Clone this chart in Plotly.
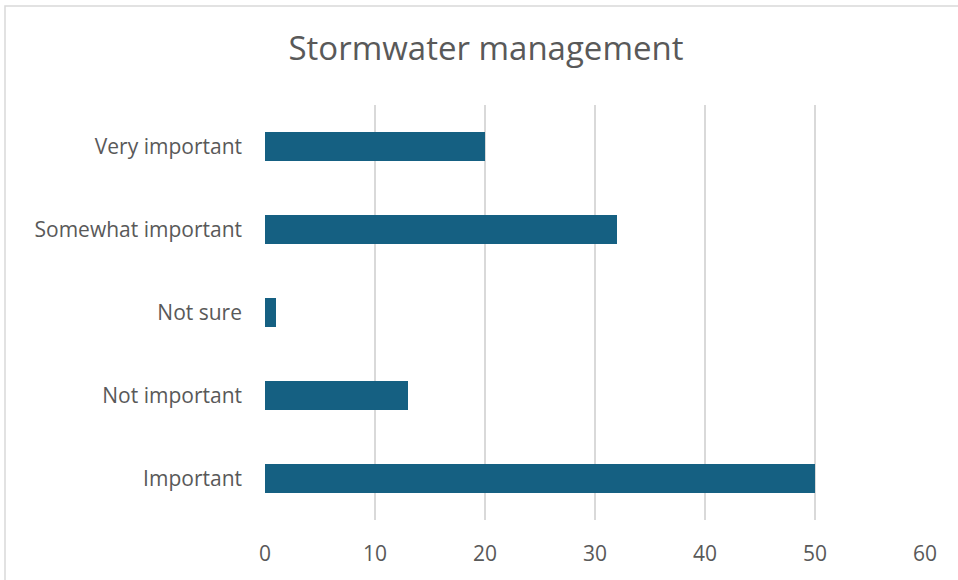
import plotly.graph_objects as go

categories = ["Important", "Not important", "Not sure", "Somewhat important", "Very important"]
values = [50, 13, 1, 32, 20]
x_ticks = [0, 10, 20, 30, 40, 50, 60]

TEXT = "#595959"
FONT = "Open Sans"

fig = go.Figure(go.Bar(
    x=values, y=categories, orientation="h",
    marker=dict(color="#156082", line=dict(width=0)),
    width=0.35, hoverinfo="x+y",
))

L, R, T, B = 265, 33, 105, 60
W, H = 958, 580
pw, ph = W - L - R, H - T - B

fig.update_layout(
    width=W, height=H,
    margin=dict(l=L, r=R, t=T, b=B, pad=0),
    paper_bgcolor="white", plot_bgcolor="white",
    font=dict(family=FONT, color=TEXT, size=21),
    title=dict(text="Stormwater management", x=486 / W, xanchor="center",
               y=1 - 48 / H, yanchor="middle",
               font=dict(family=FONT, size=33, color=TEXT)),
    showlegend=False,
    xaxis=dict(range=[0, 60], tickvals=x_ticks, showgrid=True, gridcolor="#d9d9d9",
               gridwidth=2, zeroline=False, showline=False, ticks="",
               ticklabelstandoff=19, tickfont=dict(size=21, color=TEXT)),
    yaxis=dict(categoryorder="array", categoryarray=categories, range=[-0.5, 4.5],
               showgrid=False, zeroline=False, showline=False, ticks="",
               ticklabelstandoff=22, tickfont=dict(size=21, color=TEXT)),
    shapes=[dict(type="rect", xref="paper", yref="paper",
                 x0=(5 - L) / pw, x1=(W + 20 - L) / pw,
                 y0=(H - B - (H + 20)) / ph, y1=(H - B - 6) / ph,
                 line=dict(color="#d9d9d9", width=1.5), layer="below")],
)

fig.write_html("out.html", config={"displayModeBar": False},
               post_script="document.body.style.margin='0';document.body.style.overflow='hidden';")
